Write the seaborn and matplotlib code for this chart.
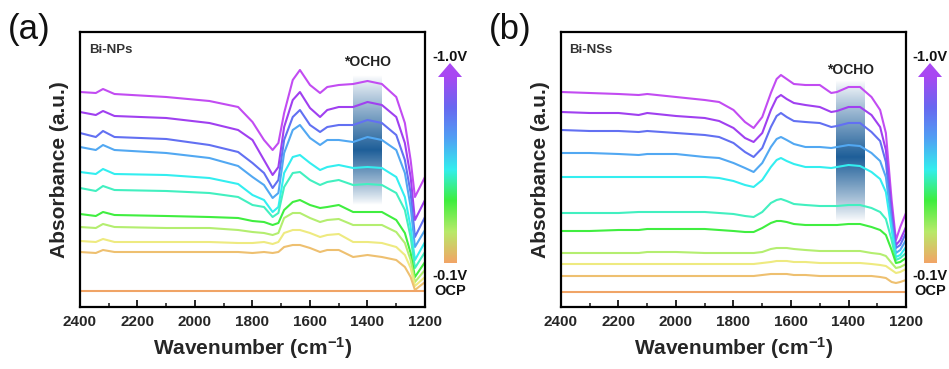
import numpy as np
import pandas as pd
import matplotlib
matplotlib.use("Agg")
import matplotlib.pyplot as plt
from matplotlib.patches import Polygon
from matplotlib.colors import LinearSegmentedColormap
import seaborn as sns

# ---------------- data ----------------
potentials = ["-1.0V", "-0.9V", "-0.8V", "-0.7V", "-0.6V", "-0.5V",
              "-0.4V", "-0.3V", "-0.2V", "-0.1V", "OCP"]
line_colors = ["#C24CF2", "#A040F0", "#6270F2", "#52A8F2", "#33EEF0",
               "#42F0C0", "#40EE40", "#B4EE70", "#EEEA80", "#EEC070", "#F0A466"]

wn_a = [2400, 2345, 2320, 2280, 2100, 1950, 1850, 1800, 1760, 1730, 1710, 1690, 1660,
        1635, 1600, 1565, 1540, 1500, 1450, 1400, 1350, 1300, 1270, 1250, 1235, 1200]
abs_a = {
    "-1.0V": [215, 214, 218, 213, 210, 206, 200, 185, 167, 157, 164, 194, 227,
              237, 222, 214, 220, 222, 223, 226, 223, 210, 184, 147, 110, 130],
    "-0.9V": [195, 192, 196, 191, 189, 184, 177, 167, 147, 132, 140, 180, 207,
              215, 199, 190, 197, 200, 200, 205, 202, 190, 164, 130, 87, 107],
    "-0.8V": [174, 170, 176, 170, 168, 162, 155, 144, 134, 119, 127, 167, 190,
              197, 182, 175, 180, 182, 182, 187, 184, 172, 147, 114, 70, 90],
    "-0.7V": [160, 157, 162, 157, 154, 149, 141, 130, 122, 109, 114, 154, 177,
              182, 169, 162, 167, 167, 165, 170, 167, 157, 134, 100, 60, 77],
    "-0.6V": [135, 133, 138, 133, 132, 129, 123, 112, 107, 95, 100, 134, 150,
              152, 144, 137, 140, 142, 139, 140, 139, 130, 110, 80, 47, 65],
    "-0.5V": [119, 116, 121, 117, 116, 114, 110, 102, 100, 90, 94, 120, 134,
              135, 127, 122, 125, 127, 122, 123, 122, 114, 97, 70, 39, 55],
    "-0.4V": [93, 91, 95, 92, 91, 90, 89, 86, 85, 82, 84, 97, 105,
              107, 102, 99, 100, 102, 95, 95, 95, 87, 74, 54, 30, 45],
    "-0.3V": [80, 79, 83, 80, 79, 79, 77, 75, 74, 72, 74, 89, 94,
              94, 89, 85, 87, 88, 82, 82, 82, 75, 64, 47, 25, 37],
    "-0.2V": [66, 65, 68, 65, 65, 65, 64, 64, 65, 63, 65, 74, 77,
              77, 74, 70, 72, 73, 65, 65, 64, 60, 52, 39, 21, 30],
    "-0.1V": [55, 54, 57, 55, 55, 55, 55, 54, 55, 54, 55, 60, 62,
              62, 59, 55, 57, 57, 50, 52, 50, 47, 40, 30, 17, 25],
    "OCP":   [16, 16, 16, 16, 16, 16, 16, 16, 16, 16, 16, 16, 16,
              16, 16, 16, 16, 16, 16, 16, 16, 16, 16, 16, 16, 16],
}

wn_b = [2400, 2300, 2200, 2130, 2100, 2000, 1900, 1850, 1800, 1760, 1730, 1700, 1670, 1650, 1635,
        1615, 1590, 1550, 1500, 1460, 1440, 1400, 1360, 1320, 1290, 1270, 1250, 1235, 1220, 1200]
abs_b = {
    "-1.0V": [215, 214, 213, 212, 213, 210, 207, 205, 197, 185, 179, 190, 214, 228, 232,
              228, 223, 222, 222, 214, 215, 220, 220, 210, 197, 174, 107, 67, 80, 94],
    "-0.9V": [195, 194, 194, 192, 194, 191, 189, 186, 179, 169, 165, 174, 197, 209, 212,
              208, 204, 202, 200, 195, 196, 200, 200, 192, 180, 157, 97, 62, 67, 80],
    "-0.8V": [177, 176, 176, 175, 176, 174, 172, 170, 164, 155, 150, 159, 180, 191, 194,
              190, 186, 185, 184, 180, 181, 184, 184, 175, 166, 145, 90, 59, 62, 74],
    "-0.7V": [154, 154, 153, 152, 153, 153, 150, 149, 144, 139, 135, 144, 160, 168, 170,
              167, 163, 160, 160, 159, 160, 162, 161, 154, 146, 130, 84, 54, 57, 67],
    "-0.6V": [130, 130, 130, 130, 130, 130, 130, 129, 126, 122, 120, 127, 140, 147, 149,
              146, 143, 140, 140, 139, 140, 142, 141, 135, 128, 115, 77, 50, 52, 60],
    "-0.5V": [94, 94, 94, 95, 95, 95, 95, 94, 93, 91, 90, 95, 104, 107, 108,
              106, 103, 102, 101, 101, 101, 102, 102, 99, 95, 88, 67, 47, 49, 54],
    "-0.4V": [76, 76, 77, 77, 78, 78, 78, 77, 76, 75, 75, 79, 84, 86, 86,
              85, 83, 82, 82, 82, 82, 83, 83, 80, 77, 72, 57, 44, 45, 49],
    "-0.3V": [54, 54, 54, 54, 55, 55, 54, 54, 54, 54, 54, 55, 58, 59, 59,
              59, 58, 57, 56, 56, 56, 56, 56, 54, 53, 51, 44, 39, 40, 43],
    "-0.2V": [43, 43, 43, 43, 43, 43, 43, 43, 43, 43, 43, 44, 45, 46, 46,
              46, 45, 45, 44, 44, 44, 44, 44, 43, 42, 41, 37, 34, 35, 38],
    "-0.1V": [31, 31, 31, 31, 31, 31, 31, 31, 31, 31, 31, 32, 33, 33, 33,
              33, 32, 32, 31, 31, 31, 31, 31, 31, 30, 29, 25, 24, 25, 27],
    "OCP":   [15, 15, 15, 15, 15, 15, 15, 15, 15, 15, 15, 15, 15, 15, 15,
              15, 15, 15, 15, 15, 15, 15, 15, 15, 15, 15, 15, 15, 15, 15],
}

panel_tags = ["(a)", "(b)"]
sample_names = ["Bi-NPs", "Bi-NSs"]
x_ticks = [2400, 2200, 2000, 1800, 1600, 1400, 1200]

# ---------------- style ----------------
sns.set_theme(style="white")
plt.rcParams["font.family"] = ["Liberation Sans", "DejaVu Sans"]
plt.rcParams["mathtext.fontset"] = "custom"
plt.rcParams["mathtext.rm"] = "Liberation Sans:bold"
plt.rcParams["mathtext.bf"] = "Liberation Sans:bold"
plt.rcParams["mathtext.it"] = "Liberation Sans:bold"
plt.rcParams["axes.linewidth"] = 1.6

W, H = 949, 369
fig = plt.figure(figsize=(W / 100, H / 100), dpi=100)

def fx(px):
    return px / W

def fy(py):
    return 1 - py / H

palette = dict(zip(potentials, line_colors))
band_cmap = LinearSegmentedColormap.from_list("band", ["#ffffff", "#1f5f99"])
arrow_cmap = LinearSegmentedColormap.from_list(
    "arr", ["#F2A566", "#B8EA6A", "#3EEE3E", "#33EEEE", "#50A0F4",
            "#6868F0", "#A848F2"])

panels = [
    dict(left=80, wn=wn_a, ab=abs_a, band=(1450, 1350), band_y=(75, 205, 150),
         cbx=450, ocho_y=62),
    dict(left=561, wn=wn_b, ab=abs_b, band=(1443, 1343), band_y=(80, 222, 157),
         cbx=930, ocho_y=70),
]

for i, p in enumerate(panels):
    ax = fig.add_axes([fx(p["left"]), fy(307), fx(345), (307 - 32) / H])
    rows = []
    for pot in potentials:
        for w, a in zip(p["wn"], p["ab"][pot]):
            rows.append((w, a, pot))
    df = pd.DataFrame(rows, columns=["wn", "abs", "pot"])

    # shaded *OCHO band (behind curves)
    y0 = 307 - p["band_y"][1]
    y1 = 307 - p["band_y"][0]
    yc = 307 - p["band_y"][2]
    yy = np.linspace(y0, y1, 200)
    prof = np.where(yy < yc, (yy - y0) / (yc - y0), (y1 - yy) / (y1 - yc))
    prof = np.clip(prof, 0, 1) ** 0.9
    img = band_cmap(prof)[:, None, :]
    ax.imshow(img, extent=[p["band"][0], p["band"][1], y0, y1], origin="lower",
              aspect="auto", zorder=0, interpolation="bilinear")

    sns.lineplot(data=df, x="wn", y="abs", hue="pot", palette=palette,
                 hue_order=potentials, legend=False, ax=ax, lw=1.5, zorder=2,
                 estimator=None, sort=False)

    ax.set_xlim(2400, 1200)
    ax.set_ylim(0, 275)
    ax.set_yticks([])
    ax.set_xticks(x_ticks)
    ax.set_xticks(np.arange(1300, 2400, 200), minor=True)
    ax.set_xticklabels([str(t) for t in x_ticks], fontsize=11, fontweight="bold")
    ax.tick_params(axis="x", which="major", direction="in", length=5, width=1.4,
                   pad=6, bottom=True, top=False)
    ax.tick_params(axis="x", which="minor", direction="in", length=3, width=1.2,
                   bottom=True, top=False)
    for s in ax.spines.values():
        s.set_color("black")
        s.set_linewidth(1.6)
    ax.set_xlabel("Wavenumber (cm$^{-1}$)", fontsize=15, fontweight="bold",
                  labelpad=4)
    ax.set_ylabel("Absorbance (a.u.)", fontsize=15, fontweight="bold", labelpad=8)
    ax.text(0.025, 0.955, sample_names[i], transform=ax.transAxes, fontsize=9.5,
            fontweight="bold", color="#333333", va="top", ha="left")
    ax.text((p["band"][0] + p["band"][1]) / 2, 307 - p["ocho_y"],
            "*OCHO", fontsize=10, fontweight="bold", color="#222222",
            ha="center", va="center")
    fig.text(fx(p["left"] - 72), fy(30), panel_tags[i], fontsize=25,
             ha="left", va="center", color="#111111")

    # colour arrow
    cx = p["cbx"]
    cax = fig.add_axes([fx(cx - 6.5), fy(263), fx(13), (263 - 76) / H])
    grad = np.linspace(0, 1, 256)[:, None]
    cax.imshow(grad, cmap=arrow_cmap, aspect="auto", origin="lower",
               extent=[0, 1, 0, 1])
    cax.set_axis_off()
    head = Polygon([[fx(cx - 12), fy(77)], [fx(cx + 12), fy(77)], [fx(cx), fy(63)]],
                   closed=True, transform=fig.transFigure, facecolor="#A848F2",
                   edgecolor="none")
    fig.patches.append(head)
    fig.text(fx(cx), fy(57), "-1.0V", fontsize=10.5, fontweight="bold",
             ha="center", va="center", color="#111111")
    fig.text(fx(cx), fy(276), "-0.1V", fontsize=10.5, fontweight="bold",
             ha="center", va="center", color="#111111")
    fig.text(fx(cx), fy(291), "OCP", fontsize=10.5, fontweight="bold",
             ha="center", va="center", color="#111111")

fig.savefig("out.png", dpi=100)
